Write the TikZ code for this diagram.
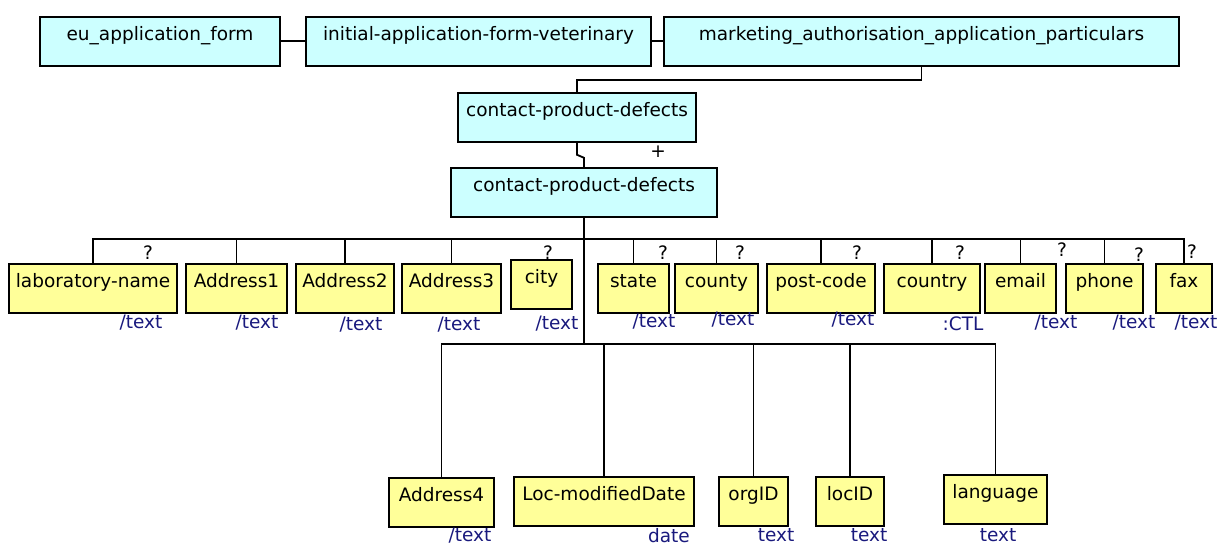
\documentclass[tikz,border=0pt]{standalone}
\usepackage{fontspec}
\setmainfont{DejaVu Sans}
\definecolor{xsdcyan}{RGB}{204,255,255}
\definecolor{xsdyellow}{RGB}{255,255,153}
\definecolor{xsdnavy}{RGB}{25,25,125}
\usetikzlibrary{positioning}

\begin{document}
\begin{tikzpicture}[x=1pt,y=-1pt,
  box/.style={draw,line width=1.8pt,inner xsep=0pt,inner ysep=0pt,
    text height=24pt,text depth=25pt,anchor=north,
    font=\fontsize{18.5}{20}\selectfont},
  grp/.style={box,fill=xsdcyan},
  elt/.style={box,fill=xsdyellow},
  typ/.style={xsdnavy,inner sep=0pt,font=\fontsize{18.5}{20}\selectfont},
  occ/.style={inner sep=0pt,font=\fontsize{18.5}{20}\selectfont},
  link/.style={line width=1.8pt}
]
  \useasboundingbox (0,0) rectangle (1217,545);
  % parents
  \node[grp,minimum width=240pt] (eu) at (160,16) {eu\_application\_form};
  \node[grp,minimum width=345pt] (init) at (478.5,16) {initial-application-form-veterinary};
  \node[grp,minimum width=515pt] (mkt) at (921.5,16) {marketing\_authorisation\_application\_particulars};
  \node[grp,minimum width=238pt] (cpd1) at (577,92) {contact-product-defects};
  \node[grp,minimum width=266pt] (cpd2) at (584,167) {contact-product-defects};
  % children, first row
  \node[elt,minimum width=168pt] (labname) at (93,263) {laboratory-name};
  \node[elt,minimum width=101pt] (addr1) at (236.5,263) {Address1};
  \node[elt,minimum width=98pt] (addr2) at (345,263) {Address2};
  \node[elt,minimum width=99pt] (addr3) at (451.5,263) {Address3};
  \node[elt,minimum width=61pt] (city) at (541.5,259) {city};
  \node[elt,minimum width=71pt] (state) at (633.5,263) {state};
  \node[elt,minimum width=83pt] (county) at (716.5,263) {county};
  \node[elt,minimum width=108pt] (postcode) at (821,263) {post-code};
  \node[elt,minimum width=96pt] (country) at (932,263) {country};
  \node[elt,minimum width=71pt] (email) at (1020.5,263) {email};
  \node[elt,minimum width=77pt] (phone) at (1104.5,263) {phone};
  \node[elt,minimum width=56pt] (fax) at (1184,263) {fax};
  % children, second row
  \node[elt,minimum width=105pt] (addr4) at (441.5,477) {Address4};
  \node[elt,minimum width=180pt] (locdate) at (604,476) {Loc-modifiedDate};
  \node[elt,minimum width=69pt] (orgid) at (753.5,476) {orgID};
  \node[elt,minimum width=68pt] (locid) at (850,476) {locID};
  \node[elt,minimum width=103pt] (lang) at (995.5,474) {language};
  % types
  \node[typ] (tlabname) at (141,323) {/text};
  \node[typ] (taddr1) at (257,323) {/text};
  \node[typ] (taddr2) at (361,325) {/text};
  \node[typ] (taddr3) at (459,325) {/text};
  \node[typ] (tcity) at (557,324) {/text};
  \node[typ] (tstate) at (654,322) {/text};
  \node[typ] (tcounty) at (733,320) {/text};
  \node[typ] (tpostcode) at (853,320) {/text};
  \node[typ] (tcountry) at (963,324) {:CTL};
  \node[typ] (temail) at (1056,323) {/text};
  \node[typ] (tphone) at (1134,323) {/text};
  \node[typ] (tfax) at (1196,323) {/text};
  \node[typ] (taddr4) at (470,536) {/text};
  \node[typ] (tlocdate) at (669,536) {date};
  \node[typ] (torgid) at (776,535) {text};
  \node[typ] (tlocid) at (869,535) {text};
  \node[typ] (tlang) at (998,535) {text};
  % occurrence marks
  \node[occ] (plus) at (658,152) {+};
  \node[occ] (qlabname) at (148,253) {?};
  \node[occ] (qcity) at (548,253) {?};
  \node[occ] (qstate) at (663,253) {?};
  \node[occ] (qcounty) at (740,253) {?};
  \node[occ] (qpostcode) at (857,253) {?};
  \node[occ] (qcountry) at (960,253) {?};
  \node[occ] (qemail) at (1062,250) {?};
  \node[occ] (qphone) at (1139,255) {?};
  \node[occ] (qfax) at (1192,252) {?};
  % connectors
  \coordinate (busA) at (584,239);
  \coordinate (busB) at (584,344);
  \draw[link] (eu) -- (init);
  \draw[link] (init) -- (mkt);
  \draw[link] (mkt.south) -- ++(0,13) -| (cpd1.north);
  \draw[link] (cpd1.south) -- ++(0,12) -- ++(7,3) -- (cpd2.north);
  \draw[link] (cpd2.south) -- (busB);
  \foreach \n in {labname,addr1,addr2,addr3,state,county,postcode,country,email,phone,fax}
    \draw[link] (\n.north) |- (busA);
  \foreach \n in {addr4,locdate,orgid,locid,lang}
    \draw[link] (\n.north) |- (busB);
\end{tikzpicture}
\end{document}
